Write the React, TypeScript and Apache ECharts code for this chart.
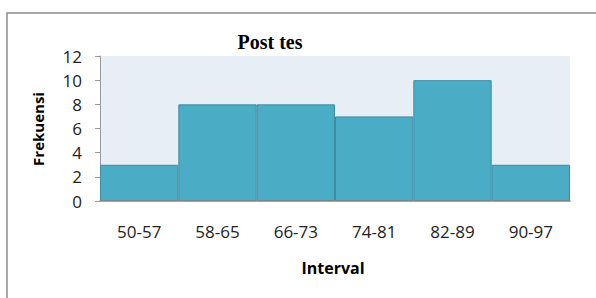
import React, { useEffect, useRef } from "react";
import * as echarts from "echarts";

const categories = ["50-57", "58-65", "66-73", "74-81", "82-89", "90-97"];
const frequencies = [3, 8, 8, 7, 10, 3];
const yTicks = { min: 0, max: 12, interval: 2 };
const titleText = "Post tes";
const yName = "Frekuensi";
const xName = "Interval";

export default function App() {
  const ref = useRef<HTMLDivElement>(null);
  useEffect(() => {
    if (!ref.current) return;
    const chart = echarts.init(ref.current, null, { renderer: "svg" });
    chart.setOption({
      animation: false,
      grid: {
        left: 100,
        top: 56,
        width: 470,
        height: 145,
        show: true,
        backgroundColor: "#E8EEF5",
        borderWidth: 0,
      },
      xAxis: {
        type: "category",
        data: categories,
        boundaryGap: true,
        axisLine: { show: true, lineStyle: { color: "#868686", width: 1.5 } },
        axisTick: { show: false },
        axisLabel: {
          color: "#222",
          fontFamily: "Open Sans",
          fontSize: 17,
          margin: 22,
        },
        z: 5,
      },
      yAxis: {
        type: "value",
        min: yTicks.min,
        max: yTicks.max,
        interval: yTicks.interval,
        axisLine: { show: true, lineStyle: { color: "#999" } },
        axisTick: { show: true, length: 5, lineStyle: { color: "#999" } },
        splitLine: { show: false },
        axisLabel: {
          color: "#222",
          fontFamily: "Open Sans",
          fontSize: 17,
          margin: 18,
        },
      },
      series: [
        {
          type: "bar",
          data: frequencies,
          barWidth: "100%",
          barCategoryGap: 0,
          itemStyle: {
            color: "#4BACC6",
            borderColor: "#3F8CA3",
            borderWidth: 1,
          },
        },
      ],
      graphic: [
        {
          type: "rect",
          shape: { x: 7, y: 13, width: 620, height: 320 },
          style: { fill: "none", stroke: "#8a8a8a", lineWidth: 1.5 },
          silent: true,
        },
        {
          type: "text",
          x: 270,
          y: 42,
          style: {
            text: titleText,
            fontFamily: "Liberation Serif",
            fontWeight: "bold",
            fontSize: 20,
            fill: "#000",
            align: "center",
            verticalAlign: "middle",
          },
        },
        {
          type: "text",
          x: 38,
          y: 129,
          rotation: Math.PI / 2,
          style: {
            text: yName,
            fontFamily: "Open Sans",
            fontWeight: "bold",
            fontSize: 15,
            fill: "#000",
            align: "center",
            verticalAlign: "middle",
          },
        },
        {
          type: "text",
          x: 333,
          y: 268,
          style: {
            text: xName,
            fontFamily: "Open Sans",
            fontWeight: "bold",
            fontSize: 16,
            fill: "#000",
            align: "center",
            verticalAlign: "middle",
          },
        },
      ],
    });
    return () => chart.dispose();
  }, []);
  return <div ref={ref} style={{ width: 596, height: 298, position: "absolute", left: 0, top: 0 }} />;
}
